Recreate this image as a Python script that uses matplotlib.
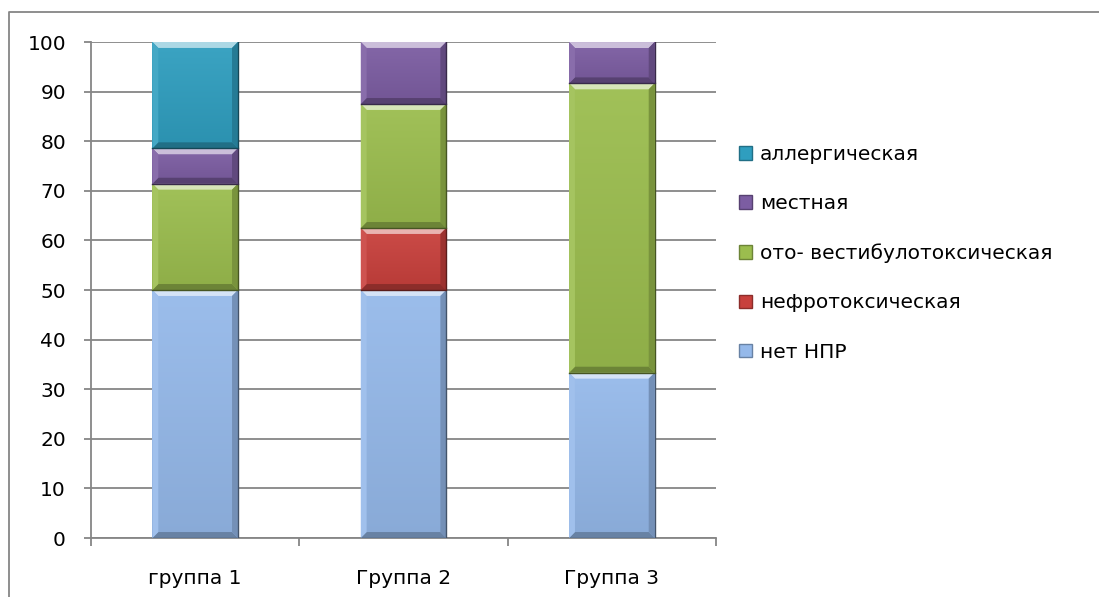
import numpy as np
import matplotlib as mpl
mpl.use('Agg')
import matplotlib.pyplot as plt
from matplotlib.colors import to_rgb
from matplotlib.patches import Polygon, Patch

plt.rcParams['font.family'] = ['DejaVu Sans']

# share of patients (%) per group
groups = ['группа 1', 'Группа 2', 'Группа 3']
net_npr = [50.0, 50.0, 33.33]
nefro = [0.0, 12.5, 0.0]
oto_vest = [21.43, 25.0, 58.33]
mestnaya = [7.14, 12.5, 8.33]
allerg = [21.43, 0.0, 0.0]

series = [
    ('нет НПР', net_npr, '#95B9EA'),
    ('нефротоксическая', nefro, '#C8403C'),
    ('ото- вестибулотоксическая', oto_vest, '#9BBD4E'),
    ('местная', mestnaya, '#7C5DA2'),
    ('аллергическая', allerg, '#2F9EBF'),
]

GREY = '#868686'
FS = 14.5


def mix(c, other, t):
    c = np.array(to_rgb(c))
    return tuple(c * (1 - t) + np.array(other) * t)


fig = plt.figure(figsize=(10.99, 5.97), dpi=100)
ax = fig.add_axes([91 / 1099, 59 / 597, 625 / 1099, 496 / 597])

x = np.arange(len(groups))
width = 0.41
bx, by = 0.028, 1.2  # bevel size in data units

bottom = np.zeros(len(groups))
handles = []
for name, vals, col in series:
    vals = np.array(vals)
    bars = ax.bar(x, vals, width, bottom=bottom, color=col, edgecolor='none', zorder=3)
    for p, v in zip(bars.patches, vals):
        if v <= 0:
            continue
        x0, y0 = p.get_x(), p.get_y()
        x1, y1 = x0 + p.get_width(), y0 + p.get_height()
        # vertical gradient on the face
        grad = np.linspace(0, 1, 64).reshape(-1, 1)
        top_c = np.array(mix(col, (1, 1, 1), 0.06))
        bot_c = np.array(mix(col, (0, 0, 0), 0.08))
        img = top_c * (1 - grad[..., None]) + bot_c * grad[..., None]
        im = ax.imshow(img, extent=(x0, x1, y0, y1), origin='upper',
                       aspect='auto', zorder=3.1, interpolation='bilinear')
        im.set_clip_path(p)
        # bevel edges
        bevels = [
            ([(x0, y1), (x1, y1), (x1 - bx, y1 - by), (x0 + bx, y1 - by)], mix(col, (1, 1, 1), 0.6)),
            ([(x0, y0), (x1, y0), (x1 - bx, y0 + by), (x0 + bx, y0 + by)], mix(col, (0, 0, 0), 0.3)),
            ([(x0, y0), (x0 + bx, y0 + by), (x0 + bx, y1 - by), (x0, y1)], mix(col, (1, 1, 1), 0.1)),
            ([(x1, y0), (x1 - bx, y0 + by), (x1 - bx, y1 - by), (x1, y1)], mix(col, (0, 0, 0), 0.22)),
        ]
        for pts, c in bevels:
            ax.add_patch(Polygon(pts, closed=True, facecolor=c, edgecolor='none', zorder=3.2))
        ax.plot([x1, x1, x0], [y1, y0, y0], color=mix(col, (0, 0, 0), 0.55), lw=1, zorder=3.3)
    bottom += vals
    handles.append(Patch(facecolor=col, edgecolor=mix(col, (0, 0, 0), 0.3), label=name))

ax.set_xlim(-0.5, len(groups) - 0.5)
ax.set_ylim(0, 100)
ax.set_yticks(np.arange(0, 101, 10))
ax.yaxis.grid(True, color=GREY, lw=1.3, zorder=0)
ax.set_axisbelow(True)

ax.set_xticks(np.arange(-0.5, len(groups), 1.0))
ax.set_xticklabels([])
ax.set_xticks(x, minor=True)
ax.set_xticklabels(groups, minor=True, fontsize=FS)
ax.tick_params(axis='x', which='major', length=6, width=1.3, color=GREY, direction='out')
ax.tick_params(axis='x', which='minor', length=0, pad=22)
ax.tick_params(axis='y', length=5, width=1.3, color=GREY, direction='out', pad=13, labelsize=FS)

for s in ['top', 'right']:
    ax.spines[s].set_visible(False)
for s in ['left', 'bottom']:
    ax.spines[s].set_color(GREY)
    ax.spines[s].set_linewidth(1.3)

fig.legend(handles=handles[::-1], loc='upper left', bbox_to_anchor=(731 / 1099, 1 - 137 / 597),
           frameon=False, fontsize=FS, handlelength=0.65, handleheight=0.65,
           handletextpad=0.4, labelspacing=1.5, borderaxespad=0)

# outer chart frame
fig.add_artist(plt.Line2D([9 / 1099, 9 / 1099, 1.0], [0.0, 1 - 12 / 597, 1 - 12 / 597],
                          transform=fig.transFigure, color=GREY, lw=1.3))

fig.savefig('out.png', dpi=100)
